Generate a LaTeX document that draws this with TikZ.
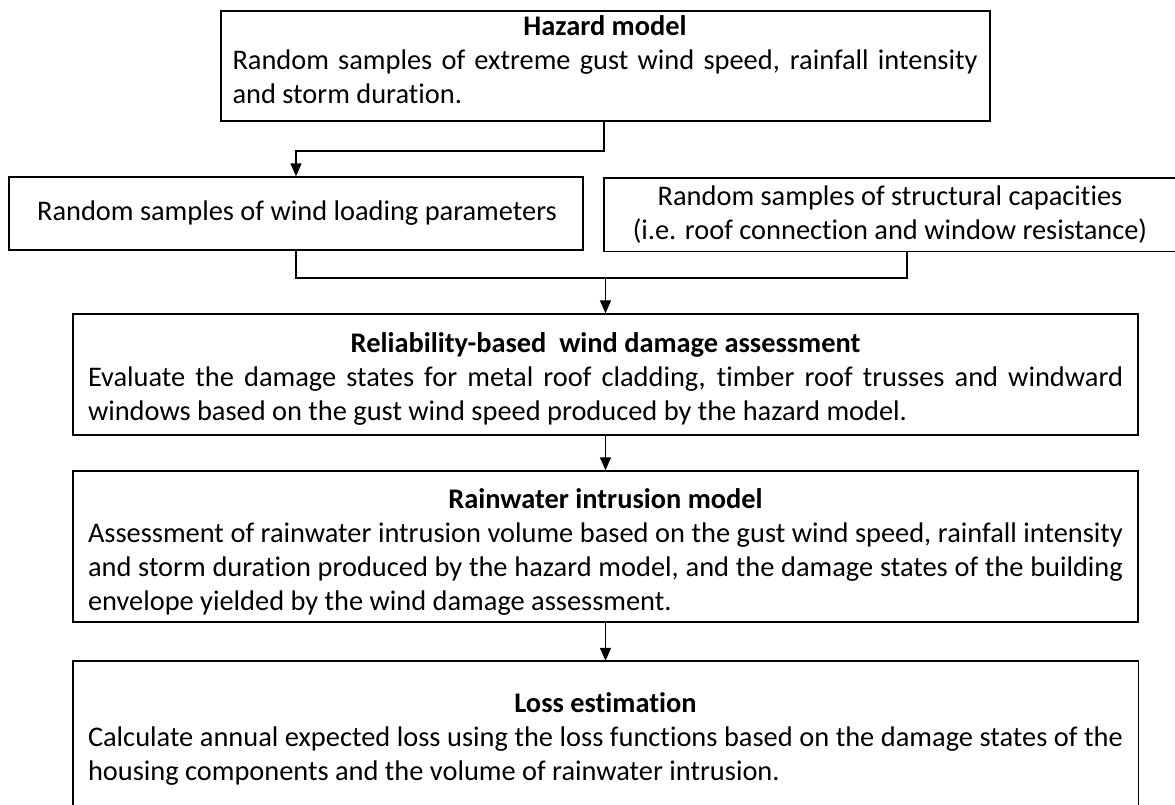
\documentclass[tikz,border=0pt]{standalone}
\usepackage{fontspec}
\setmainfont{Carlito}[Ligatures=NoCommon]
\usetikzlibrary{arrows.meta}
\newcommand{\jline}[2]{\makebox[#1][s]{#2}}
\newcommand{\lline}[2]{\makebox[#1][l]{#2}}
\begin{document}
\begin{tikzpicture}[x=1pt,y=-1pt,
  box/.style={draw=black,line width=1.4pt,rectangle,inner sep=0pt},
  openbox/.style={rectangle,inner sep=0pt},
  txt/.style={inner sep=0pt,align=center,font={\fontsize{28.4}{34}\selectfont}},
  arr/.style={line width=1.4pt,-{Triangle[width=11pt,length=13pt]}},
  ln/.style={line width=1.4pt}]
\path[use as bounding box] (0,0) rectangle (1175,804);
\fill[white] (0,0) rectangle (1175,804);
\begin{scope}
\clip (0,0) rectangle (1175,804);
% boxes
\node[box,minimum width=769pt,minimum height=110pt] (haz) at (605.5,66) {};
\node[box,minimum width=574pt,minimum height=73pt] (lb) at (296,213.5) {};
\node[openbox,minimum width=680pt,minimum height=73pt] (rb) at (944,214.5) {};
\draw[ln] (rb.north east) -- (rb.north west) -- (rb.south west) -- (rb.south east);
\node[box,minimum width=1065pt,minimum height=121pt] (rel) at (605.5,374.5) {};
\node[box,minimum width=1065pt,minimum height=151pt] (rain) at (605.5,546.5) {};
\node[openbox,minimum width=1065pt,minimum height=154pt] (loss) at (605.5,738) {};
\draw[ln] (loss.south west) -- (loss.north west) -- (loss.north east) -- (loss.south east);
% texts
\node[txt] (hazt) at (605,60) {\textbf{Hazard model}\\
  \jline{745pt}{Random samples of extreme gust wind speed, rainfall intensity}\\
  \lline{745pt}{and storm duration.}};
\node[txt] (lbt) at (297,213) {Random samples of wind loading parameters};
\node[txt] (rbt) at (890,215) {Random samples of structural capacities\\
  (i.e. roof connection and window resistance)};
\node[txt] (relt) at (605.5,379) {\textbf{Reliability-based\ \ wind damage assessment}\\
  \jline{1035pt}{Evaluate the damage states for metal roof cladding, timber roof trusses and windward}\\
  \lline{1035pt}{windows based on the gust wind speed produced by the hazard model.}};
\node[txt] (raint) at (605.5,552) {\textbf{Rainwater intrusion model}\\
  \jline{1035pt}{Assessment of rainwater intrusion volume based on the gust wind speed, rainfall intensity}\\
  \jline{1035pt}{and storm duration produced by the hazard model, and the damage states of the building}\\
  \lline{1035pt}{envelope yielded by the wind damage assessment.}};
\node[txt] (losst) at (605.5,739) {\textbf{Loss estimation}\\
  \jline{1035pt}{Calculate annual expected loss using the loss functions based on the damage states of the}\\
  \lline{1035pt}{housing components and the volume of rainwater intrusion.}};
% connectors
\coordinate (h) at (0,151);
\coordinate (m) at (605.5,278);
\coordinate (mr) at (907,278);
\draw[arr] ([xshift=-1.5pt]haz.south) |- (lb.north |- h) -- (lb.north);
\draw[ln] (lb.south) |- (mr) -- (rb.south -| mr);
\draw[arr] (m) -- (rel.north -| m);
\draw[arr] (rel.south) -- (rain.north);
\draw[arr] (rain.south) -- (loss.north);
\end{scope}
\end{tikzpicture}
\end{document}
